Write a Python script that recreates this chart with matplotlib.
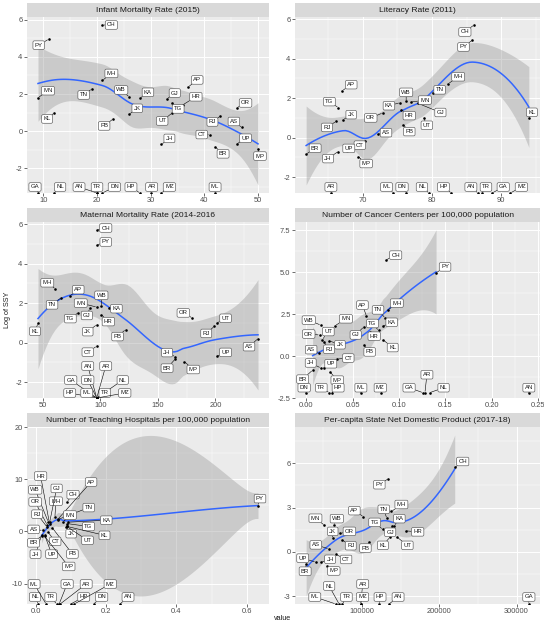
import matplotlib

matplotlib.use("Agg")
import matplotlib.pyplot as plt
import numpy as np

plt.rcParams["font.family"] = ["Liberation Sans", "DejaVu Sans"]
plt.rcParams["axes.unicode_minus"] = False

# --------------------------------------------------------------------------
# data; states with no SSY value are -inf
# --------------------------------------------------------------------------
STATES = ["CH", "PY", "MH", "TN", "AP", "WB", "KA", "GJ", "HR", "TG", "MN",
          "KL", "JK", "PB", "UT", "OR", "RJ", "AS", "CT", "JH", "UP", "BR",
          "MP", "GA", "NL", "AN", "TR", "DN", "HP", "AR", "MZ", "ML"]
NINF = -np.inf
LOG_SSY = [5.71, 4.95, 2.73, 2.27, 2.38, 1.84, 1.77, 1.73, 1.42, 1.52, 1.80,
           0.98, 0.91, 0.66, 0.98, 1.25, 0.82, 0.20, -0.18, -0.71, -0.70, -0.84,
           -0.96, NINF, NINF, NINF, NINF, NINF, NINF, NINF, NINF, NINF]

INFANT_MORTALITY = [21, 11, 21, 19, 37, 26, 28, 33, 36, 34, 9, 12, 26, 23, 34,
                    46, 43, 47, 41, 32, 46, 42, 50, 9, 12, 20, 20, 21, 28, 30,
                    32, 42]
LITERACY = [86.05, 85.85, 82.34, 80.09, 67.02, 76.26, 75.36, 78.03, 75.55,
            66.46, 76.94, 94.00, 67.16, 75.84, 78.82, 72.87, 66.11, 72.19,
            70.28, 66.41, 67.68, 61.80, 69.32, 88.70, 79.55, 86.63, 87.22,
            76.24, 82.80, 65.38, 91.33, 74.43]
MATERNAL_MORTALITY = [97, 97, 61, 66, 74, 101, 108, 91, 101, 81, 97, 46, 97,
                      122, 201, 180, 199, 237, 97, 165, 201, 165, 173, 97, 97,
                      97, 97, 97, 97, 97, 97, 97]
CANCER_CENTERS = [0.0857, 0.140, 0.088, 0.085, 0.065, 0.0157, 0.0825, 0.062,
                  0.069, 0.078, 0.031, 0.0825, 0.0246, 0.062, 0.0175, 0.0146,
                  0.0193, 0.014, 0.0336, 0.0157, 0.019, 0.007, 0.026, 0.126,
                  0.133, 0.240, 0.025, 0.0, 0.028, 0.128, 0.081, 0.059]
TEACHING_HOSPITALS = [0.0895, 0.632, 0.055, 0.063, 0.064, 0.036, 0.093, 0.040,
                      0.040, 0.088, 0.078, 0.088, 0.087, 0.048, 0.088, 0.033,
                      0.033, 0.020, 0.036, 0.017, 0.026, 0.017, 0.026, 0.067,
                      0.007, 0.240, 0.060, 0.165, 0.100, 0.070, 0.110, 0.030]
NSDP = [220000, 134000, 138000, 132000, 101700, 63400, 141800, 139000, 156500,
        126700, 51300, 136000, 62000, 109500, 145700, 72000, 73700, 56900,
        66400, 47000, 40000, 27600, 54300, 316000, 70300, 135000, 74600,
        np.nan, 122000, 98300, 98000, 66000]

TITLES = ["Infant Mortality Rate (2015)", "Literacy Rate (2011)",
          "Maternal Mortality Rate (2014-2016",
          "Number of Cancer Centers per 100,000 population",
          "Number of Teaching Hospitals per 100,000 population",
          "Per-capita State Net Domestic Product (2017-18)"]

X_TICKS = [[10, 20, 30, 40, 50], [70, 80, 90], [50, 100, 150, 200],
           [0.0, 0.05, 0.10, 0.15, 0.20, 0.25], [0.0, 0.2, 0.4, 0.6],
           [100000, 200000, 300000]]
X_TICK_LABELS = [["10", "20", "30", "40", "50"], ["70", "80", "90"],
                 ["50", "100", "150", "200"],
                 ["0.00", "0.05", "0.10", "0.15", "0.20", "0.25"],
                 ["0.0", "0.2", "0.4", "0.6"], ["100000", "200000", "300000"]]
Y_TICKS = [[-2, 0, 2, 4, 6], [-2, 0, 2, 4, 6], [-2, 0, 2, 4, 6],
           [-2.5, 0.0, 2.5, 5.0, 7.5], [-10, 0, 10, 20], [-3, 0, 3, 6]]
Y_TICK_LABELS = [["-2", "0", "2", "4", "6"], ["-2", "0", "2", "4", "6"],
                 ["-2", "0", "2", "4", "6"],
                 ["-2.5", "0.0", "2.5", "5.0", "7.5"],
                 ["-10", "0", "10", "20"], ["-3", "0", "3", "6"]]

# --------------------------------------------------------------------------
# label placement (pixel offsets from each point, +y is up), mimics ggrepel
# --------------------------------------------------------------------------
OFFSETS = [
    {"CH": (9, 0), "PY": (-10, -6), "MH": (9, 7), "MN": (10, 7), "KL": (-7, -6),
     "TN": (-8, -6), "WB": (-8, 7), "KA": (8, 6), "JK": (8, 6), "PB": (-9, -7),
     "AP": (9, 7), "GJ": (8, 6), "HR": (13, 8), "TG": (6, -6), "UT": (-10, -8),
     "JH": (8, 6), "CT": (-8, 0), "BR": (8, -7), "RJ": (-8, -6), "AS": (-8, 6),
     "OR": (9, 5), "UP": (9, 6), "MP": (2, -7), "GA": (-3, 6), "NL": (6, 6),
     "AN": (-18, 6), "TR": (0, 6), "DN": (12, 6), "HP": (-9, 6), "AR": (1, 6),
     "MZ": (8, 6), "ML": (0, 6)},
    {"CH": (-9, -7), "PY": (-9, -7), "MH": (10, 7), "TN": (7, 3), "AP": (9, 6),
     "TG": (-9, 6), "JK": (8, 5), "RJ": (-9, -6), "KA": (-11, -3), "WB": (0, 9),
     "MN": (14, 2), "GJ": (22, -9), "HR": (8, -6), "PB": (6, -7), "UT": (3, -7),
     "AS": (8, 1), "CT": (-5, -4), "OR": (-12, -5), "JH": (-10, -7), "UP": (2, 3),
     "MP": (8, -7), "BR": (9, 6), "KL": (3, 6), "AR": (0, 6), "ML": (-7, 6),
     "DN": (-4, 6), "NL": (-7, 6), "HP": (-8, 6), "AN": (-7, 6), "TR": (4, 6),
     "GA": (11, 6), "MZ": (11, 6)},
    {"CH": (9, 2), "PY": (9, 3), "MH": (-8, 6), "TN": (-9, -7), "AP": (8, 6),
     "TG": (-8, -6), "GJ": (-3, -7), "WB": (0, 11), "HR": (7, -7), "KA": (7, -1),
     "MN": (-16, 4), "JK": (-9, -7), "KL": (-3, -8), "PB": (-8, -7),
     "CT": (-9, -6), "JH": (-8, 4), "BR": (-8, -9), "MP": (9, -8), "OR": (-9, 5),
     "RJ": (-8, -7), "UT": (9, 5), "UP": (9, 4), "AS": (-9, -8), "AN": (-9, 32),
     "AR": (9, 32), "GA": (-26, 18), "DN": (-9, 18), "NL": (26, 18),
     "HP": (-27, 5), "ML": (-10, 5), "TR": (8, 5), "MZ": (28, 5)},
    {"WB": (-12, 5), "MN": (11, 7), "UT": (6, 8), "OR": (-11, 1), "AS": (-8, 3),
     "RJ": (5, -7), "JK": (11, -4), "GJ": (-8, -8), "AP": (-4, 11), "TN": (-7, 8),
     "MH": (9, 7), "TG": (-6, 7), "KA": (9, 4), "HR": (4, -4), "KL": (10, -8),
     "PB": (6, -7), "CT": (11, 1), "JH": (-10, 5), "UP": (7, 4), "BR": (-10, -9),
     "MP": (7, -8), "CH": (10, 5), "PY": (9, 6), "DN": (-2, 5), "TR": (-8, 5),
     "HP": (6, 5), "ML": (0, 5), "MZ": (-1, 5), "GA": (-14, 5), "AR": (2, 18),
     "NL": (14, 5), "AN": (0, 5)},
    {"HR": (-9, 48), "WB": (-13, 32), "GJ": (7, 34), "MH": (1, 16), "OR": (-12, 23),
     "RJ": (-10, 13), "AS": (-9, 1), "BR": (-8, -7), "JH": (-6, -19),
     "UP": (7, -19), "CT": (7, -9), "PB": (20, -26), "MP": (24, -30),
     "JK": (5, -7), "UT": (21, -14), "KL": (38, -9), "TG": (22, -3),
     "KA": (38, 2), "MN": (7, 7), "TN": (31, 12), "AP": (33, 37), "CH": (6, 7),
     "PY": (2, 7), "ML": (-12, 20), "NL": (-3, 7), "TR": (-6, 7), "GA": (8, 20),
     "AR": (26, 20), "HP": (13, 7), "DN": (8, 7), "MZ": (36, 20), "AN": (8, 7)},
    {"CH": (8, 6), "PY": (-9, -6), "MH": (10, 7), "TN": (-3, 9), "AP": (-9, 6),
     "KA": (5, 7), "TG": (-8, 7), "GJ": (-2, -6), "HR": (12, -1), "KL": (-7, -8),
     "UT": (10, -8), "PB": (-4, -6), "OR": (9, 2), "JK": (0, 7), "RJ": (9, -6),
     "MN": (-9, 7), "WB": (3, 6), "AS": (-13, 4), "CT": (10, -5), "JH": (9, 3),
     "UP": (-13, 4), "BR": (-1, -7), "MP": (7, -5), "ML": (-21, 7),
     "NL": (-10, 18), "TR": (4, 7), "AR": (2, 20), "MZ": (2, 7), "HP": (1, 7),
     "AN": (9, 7), "GA": (0, 7)},
]

PANEL_X = [INFANT_MORTALITY, LITERACY, MATERNAL_MORTALITY, CANCER_CENTERS,
           TEACHING_HOSPITALS, NSDP]

# layout in pixels of the 544x625 canvas
W, H = 544, 625
COLS = [(27, 269), (295, 540)]
ROWS = [(3, 17, 193), (208, 222, 398), (413, 427, 604)]

PANEL_BG = "#EBEBEB"
STRIP_BG = "#D9D9D9"
SMOOTH = "#3366FF"
TICK_TXT = "#4D4D4D"


def t_quantile(df, z=1.959964):
    # Cornish-Fisher expansion of the 97.5% Student-t quantile
    g1 = (z**3 + z) / 4
    g2 = (5 * z**5 + 16 * z**3 + 3 * z) / 96
    g3 = (3 * z**7 + 19 * z**5 + 17 * z**3 - 15 * z) / 384
    return z + g1 / df + g2 / df**2 + g3 / df**3


def local_rows(xs, x0, q):
    # local quadratic with tricube weights -> operator rows for value and slope
    d = np.abs(xs - x0)
    h = np.sort(d)[q - 1]
    u = np.clip(d / h, 0, 1)
    w = (1 - u**3) ** 3
    X = np.column_stack([np.ones(len(xs)), xs - x0, (xs - x0) ** 2])
    XtW = X.T * w
    B = np.linalg.solve(XtW @ X, XtW)
    return B[0], B[1]


def kd_vertices(xs, fc):
    # 1-d version of loess' kd tree: split at medians until cells hold <= fc pts
    xs = np.sort(xs)
    rng = xs[-1] - xs[0]
    lo_b, hi_b = xs[0] - 0.005 * rng, xs[-1] + 0.005 * rng
    verts = {lo_b, hi_b}

    def split(l, u, vlo, vhi):
        if u - l + 1 <= fc:
            return
        m = (l + u) // 2
        off = 0
        while l <= m + off < u:
            if xs[m + off] == xs[m + off + 1]:
                off = -off
                if off >= 0:
                    off += 1
            else:
                m = m + off
                break
        cut = xs[m]
        if cut == vlo or cut == vhi:
            return
        verts.add(cut)
        split(l, m, vlo, cut)
        split(m + 1, u, cut, vhi)

    split(0, len(xs) - 1, lo_b, hi_b)
    return np.array(sorted(verts))


def loess_band(x, y, grid, span=0.75, cell=0.2):
    """geom_smooth() style loess: kd-tree vertices + cubic Hermite surface."""
    lo, hi = x.min(), x.max()
    xs = (x - lo) / (hi - lo)
    gs = (grid - lo) / (hi - lo)
    n = len(xs)
    q = int(np.floor(n * span))
    verts = kd_vertices(xs, int(np.floor(n * span * cell)))
    vals, slopes = zip(*[local_rows(xs, v, q) for v in verts])
    vals, slopes = np.array(vals), np.array(slopes)

    def interp(pts):
        j = np.clip(np.searchsorted(verts, pts, side="right") - 1, 0, len(verts) - 2)
        hgt = verts[j + 1] - verts[j]
        t = ((pts - verts[j]) / hgt)[:, None]
        phi0 = (1 - t) ** 2 * (1 + 2 * t)
        phi1 = t**2 * (3 - 2 * t)
        psi0 = t * (1 - t) ** 2
        psi1 = -(t**2) * (1 - t)
        hh = hgt[:, None]
        return (phi0 * vals[j] + phi1 * vals[j + 1]
                + hh * (psi0 * slopes[j] + psi1 * slopes[j + 1]))

    L = interp(xs)
    G = interp(gs)
    resid = y - L @ y
    IL = np.eye(n) - L
    A = IL.T @ IL
    d1 = np.trace(A)
    d2 = np.trace(A @ A)
    s = np.sqrt(np.sum(resid**2) / d1)
    fit = G @ y
    se = s * np.sqrt(np.sum(G**2, axis=1))
    t = t_quantile(d1**2 / d2)
    return fit, fit - t * se, fit + t * se


def px_box(l, t, r, b):
    return [l / W, 1 - b / H, (r - l) / W, (b - t) / H]


def expand(lo, hi, frac=0.05):
    pad = (hi - lo) * frac
    return lo - pad, hi + pad


def minor_of(ticks, lim):
    t = np.asarray(ticks, dtype=float)
    step = t[1] - t[0]
    mids = np.concatenate([[t[0] - step / 2], t[:-1] + step / 2, [t[-1] + step / 2]])
    return mids[(mids > lim[0]) & (mids < lim[1])]


def draw_panel(fig, k):
    col, row = k % 2, k // 2
    l, r = COLS[col]
    st, sb, pb = ROWS[row]

    strip = fig.add_axes(px_box(l, st, r, sb))
    strip.set_facecolor(STRIP_BG)
    strip.set_xticks([])
    strip.set_yticks([])
    for sp in strip.spines.values():
        sp.set_visible(False)
    strip.text(0.5, 0.45, TITLES[k], ha="center", va="center", fontsize=6.1,
               color="#1A1A1A", transform=strip.transAxes)

    ax = fig.add_axes(px_box(l, sb, r, pb))
    ax.set_facecolor(PANEL_BG)
    for sp in ax.spines.values():
        sp.set_visible(False)

    x = np.asarray(PANEL_X[k], dtype=float)
    y = np.asarray(LOG_SSY, dtype=float)
    keep = np.isfinite(x)
    fin = keep & np.isfinite(y)

    grid = np.linspace(x[fin].min(), x[fin].max(), 80)
    fit, low, upp = loess_band(x[fin], y[fin], grid)

    ylim = expand(min(y[fin].min(), low.min()), max(y[fin].max(), upp.max()))
    xlim = expand(x[keep].min(), x[keep].max())
    ax.set_xlim(*xlim)
    ax.set_ylim(*ylim)

    ax.set_xticks(X_TICKS[k])
    ax.set_xticklabels(X_TICK_LABELS[k])
    ax.set_yticks(Y_TICKS[k])
    ax.set_yticklabels(Y_TICK_LABELS[k])
    ax.set_xticks(minor_of(X_TICKS[k], xlim), minor=True)
    ax.set_yticks(minor_of(Y_TICKS[k], ylim), minor=True)
    ax.tick_params(which="major", length=2, width=0.5, color="#333333",
                   labelsize=5.4, labelcolor=TICK_TXT, pad=1.2)
    ax.tick_params(which="minor", length=0)
    ax.grid(True, which="major", color="white", linewidth=0.7)
    ax.grid(True, which="minor", color="white", linewidth=0.35)
    ax.set_axisbelow(True)

    ax.fill_between(grid, low, upp, color="#999999", alpha=0.4, linewidth=0,
                    zorder=1.5)
    ax.plot(grid, fit, color=SMOOTH, linewidth=1.1, zorder=1.6)

    yplot = np.where(np.isfinite(y), y, ylim[0])
    ax.scatter(x[keep], yplot[keep], s=3.5, color="black", linewidths=0,
               zorder=2)

    offs = OFFSETS[k]
    for i, name in enumerate(STATES):
        if not keep[i]:
            continue
        dx, dy = offs.get(name, (8, 6))
        ax.annotate(name, xy=(x[i], yplot[i]), xytext=(dx, dy),
                    textcoords="offset pixels", ha="center", va="center",
                    fontsize=4.3, color="#1A1A1A", zorder=3,
                    annotation_clip=False,
                    bbox=dict(boxstyle="round,pad=0.3,rounding_size=0.25",
                              fc="white", ec="#555555", lw=0.45),
                    arrowprops=dict(arrowstyle="-", color="black", lw=0.4,
                                    shrinkA=0, shrinkB=1))
    return ax


fig = plt.figure(figsize=(W / 100, H / 100), dpi=100, facecolor="white")
for k in range(6):
    draw_panel(fig, k)

fig.text(8 / W, 1 - 310 / H, "Log of SSY", rotation=90, ha="center",
         va="center", fontsize=5.2, color="#1A1A1A")
fig.text(283 / W, 1 - 619 / H, "value", ha="center", va="center",
         fontsize=5.2, color="#1A1A1A")

fig.savefig("out.png", dpi=100, facecolor="white")
